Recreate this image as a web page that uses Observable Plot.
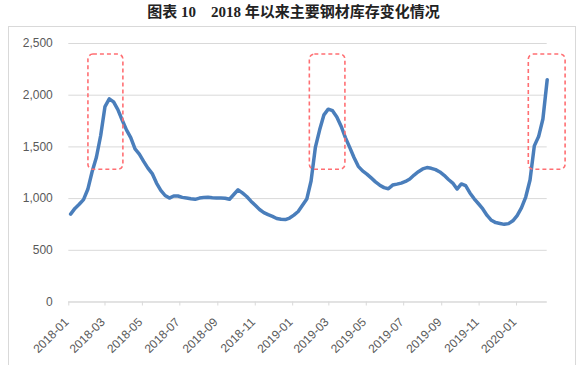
<!DOCTYPE html>
<html>
<head>
<meta charset="utf-8">
<script src="https://cdn.jsdelivr.net/npm/d3@7"></script>
<script src="https://cdn.jsdelivr.net/npm/@observablehq/plot@0.6"></script>
<style>
  html, body { margin: 0; padding: 0; background: #fff; }
  #wrap { position: relative; width: 587px; height: 365px; overflow: hidden; }
  #title { position: absolute; left: 0; top: 3px; width: 587px; text-align: center;
    font-family: "Liberation Serif", "Noto Sans CJK SC", serif; font-weight: bold; font-size: 15px; color: #222; line-height: 18px; }
  #frame { position: absolute; left: 8px; top: 26px; width: 568px; height: 360px; border: 1px solid #d9d9d9; box-sizing: border-box; }
  #chart { position: absolute; left: 0; top: 24px; }
</style>
</head>
<body>
<div id="wrap">
  <div id="frame"></div>
  <div id="title">图表 10&emsp;2018 年以来主要钢材库存变化情况</div>
  <div id="chart"></div>
</div>
<script>
// Weekly inventory values (万吨)
const startDate = "2018-01-04";
const inventory = [
  850, 905, 945, 990, 1090, 1260, 1400, 1610, 1890, 1965,
  1935, 1860, 1760, 1665, 1590, 1480, 1430, 1360, 1295, 1242,
  1150, 1080, 1030, 1005, 1025, 1025, 1012, 1005, 998, 993,
  1005, 1010, 1012, 1008, 1005, 1006, 1004, 994, 1040, 1085,
  1055, 1020, 975, 935, 895, 865, 845, 828, 808, 800,
  797, 812, 840, 875, 935, 995, 1170, 1495, 1665, 1810,
  1865, 1850, 1790, 1700, 1590, 1495, 1398, 1312, 1268, 1237,
  1200, 1162, 1130, 1106, 1095, 1131, 1140, 1150, 1166, 1190,
  1228, 1260, 1287, 1300, 1293, 1280, 1258, 1225, 1185, 1150,
  1092, 1142, 1125, 1055, 998, 950, 900, 837, 790, 768,
  760, 751, 758, 785, 835, 910, 1015, 1180, 1510, 1600,
  1770, 2150
];
const xTickLabels = ["2018-01","2018-03","2018-05","2018-07","2018-09","2018-11",
  "2019-01","2019-03","2019-05","2019-07","2019-09","2019-11","2020-01"];
const yTickValues = [0, 500, 1000, 1500, 2000, 2500];
// Highlighted periods (red dashed boxes)
const boxStart = ["2018-02-02", "2019-01-29", "2020-01-21"];
const boxEnd   = ["2018-03-31", "2019-03-28", "2020-03-21"];
const boxLow = 1279, boxHigh = 2393;

const DAY = 86400000;
const t0 = new Date(startDate + "T00:00:00Z");
const data = inventory.map((v, i) => ({date: new Date(+t0 + i * 7 * DAY), value: v}));
const xTicks = xTickLabels.map(s => new Date(s + "-01T00:00:00Z"));
const boxes = boxStart.map((s, i) => ({x1: new Date(s + "T00:00:00Z"), x2: new Date(boxEnd[i] + "T00:00:00Z"), y1: boxLow, y2: boxHigh}));
const fmtTick = d3.utcFormat("%Y-%m");

const chart = Plot.plot({
  width: 587,
  height: 341,
  marginTop: 19,
  marginBottom: 63.5,
  marginLeft: 68.3,
  marginRight: 40.3,
  style: {fontFamily: "'Liberation Sans', 'Noto Sans', sans-serif", fontSize: "12px", background: "transparent", overflow: "visible"},
  x: {type: "utc", domain: [new Date("2018-01-01T00:00:00Z"), data[data.length - 1].date], label: null},
  y: {domain: [0, 2500], label: null},
  marks: [
    Plot.gridY(yTickValues, {stroke: "#d9d9d9", strokeOpacity: 1, strokeWidth: 1}),
    Plot.axisY(yTickValues, {tickSize: 0, tickPadding: 16, tickFormat: d3.format(","), fill: "#595959", label: null}),
    Plot.axisX(xTicks, {tickSize: 4, stroke: "#d9d9d9", strokeOpacity: 1, tickFormat: () => "", label: null}),
    Plot.axisX(xTicks, {tickRotate: -45, tickSize: 0, tickPadding: 16, tickFormat: fmtTick, fill: "#595959", label: null, dx: -2, dy: 2}),
    Plot.ruleY([0], {stroke: "#d9d9d9"}),
    Plot.line(data, {x: "date", y: "value", stroke: "#4a7ebb", strokeWidth: 3.5, curve: "linear"}),
    Plot.rect(boxes, {x1: "x1", x2: "x2", y1: "y1", y2: "y2", fill: "none", stroke: "#ff6f73", strokeWidth: 1.6, strokeDasharray: "4 3", rx: 5, clip: false})
  ]
});
document.getElementById("chart").appendChild(chart);
</script>
</body>
</html>
